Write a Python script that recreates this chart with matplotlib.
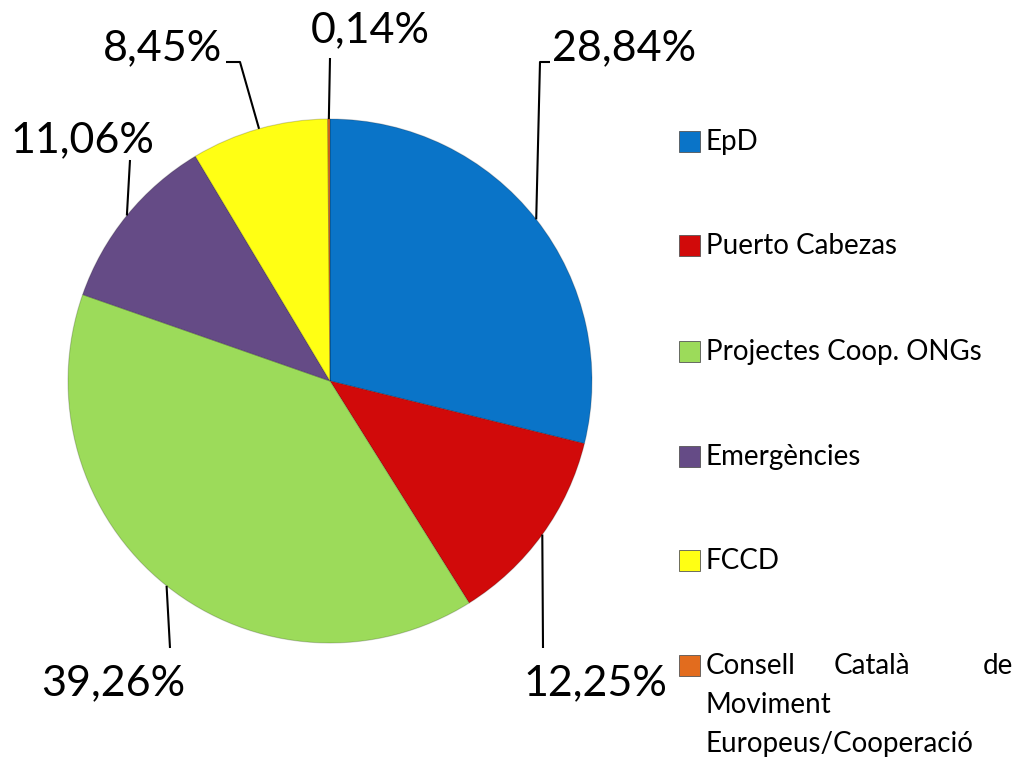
import numpy as np
import matplotlib
matplotlib.use('Agg')
import matplotlib.pyplot as plt
from matplotlib.patches import Rectangle

plt.rcParams['font.family'] = ['Lato', 'DejaVu Sans']

# Datos
categorias = ['EpD', 'Puerto Cabezas', 'Projectes Coop. ONGs', 'Emergències', 'FCCD',
              'Consell Català de Moviment Europeus/Cooperació']
valores = [28.84, 12.25, 39.26, 11.06, 8.45, 0.14]
etiquetas = ['28,84%', '12,25%', '39,26%', '11,06%', '8,45%', '0,14%']
colores = ['#0A74C8', '#D10A0A', '#9CDB5A', '#654B86', '#FFFF14', '#E26C1E']

W, H = 1017, 758
fig = plt.figure(figsize=(W / 100, H / 100), dpi=100)
ax = fig.add_axes([0, 0, 1, 1])

cx, cy, r = 330, H - 381, 262
wedges, _ = ax.pie(valores, colors=colores, startangle=90, counterclock=False,
                   center=(cx, cy), radius=r, frame=True,
                   wedgeprops=dict(linewidth=0.8, edgecolor='#00000030'))
ax.set_xlim(0, W)
ax.set_ylim(0, H)
ax.set_aspect('equal')
ax.axis('off')

# posiciones de las etiquetas (pixeles de la imagen): punto de codo, texto, alineación
layout = [
    ((540, 62), (552, 48), 'left'),
    ((543, 648), (595, 683), 'center'),
    ((170, 648), (113, 683), 'center'),
    ((130, 160), (82, 140), 'center'),
    ((240, 62), (222, 48), 'right'),
    ((330, 58), (370, 30), 'center'),
]

for w, (codo, txt, ha) in zip(wedges, layout):
    ang = np.deg2rad((w.theta1 + w.theta2) / 2)
    px, py = cx + r * np.cos(ang), cy + r * np.sin(ang)
    ex, ey = codo[0], H - codo[1]
    xs, ys = [px, ex], [py, ey]
    if ha == 'left':
        xs.append(ex + 10); ys.append(ey)
    elif ha == 'right':
        xs.append(ex - 14); ys.append(ey)
    ax.plot(xs, ys, color='black', lw=1.5, solid_capstyle='butt')

for lab, (codo, txt, ha) in zip(etiquetas, layout):
    ax.text(txt[0], H - txt[1], lab, fontsize=31, ha=ha, va='center')

# leyenda manual
fs = 20
ys_leg = [142, 246, 352, 457, 561, 666]
for cat, col, yl in zip(categorias, colores, ys_leg):
    ax.add_patch(Rectangle((679, H - yl - 10), 21, 21, facecolor=col,
                           edgecolor='#555555', lw=0.6))
    if cat.startswith('Consell'):
        ax.text(706, H - yl, 'Consell', fontsize=fs, va='center')
        ax.text(872, H - yl, 'Català', fontsize=fs, va='center', ha='center')
        ax.text(1013, H - yl, 'de', fontsize=fs, va='center', ha='right')
        ax.text(706, H - 705, 'Moviment', fontsize=fs, va='center')
        ax.text(706, H - 744, 'Europeus/Cooperació', fontsize=fs, va='center')
    else:
        ax.text(706, H - yl, cat, fontsize=fs, va='center')

fig.savefig('out.png', dpi=100)
